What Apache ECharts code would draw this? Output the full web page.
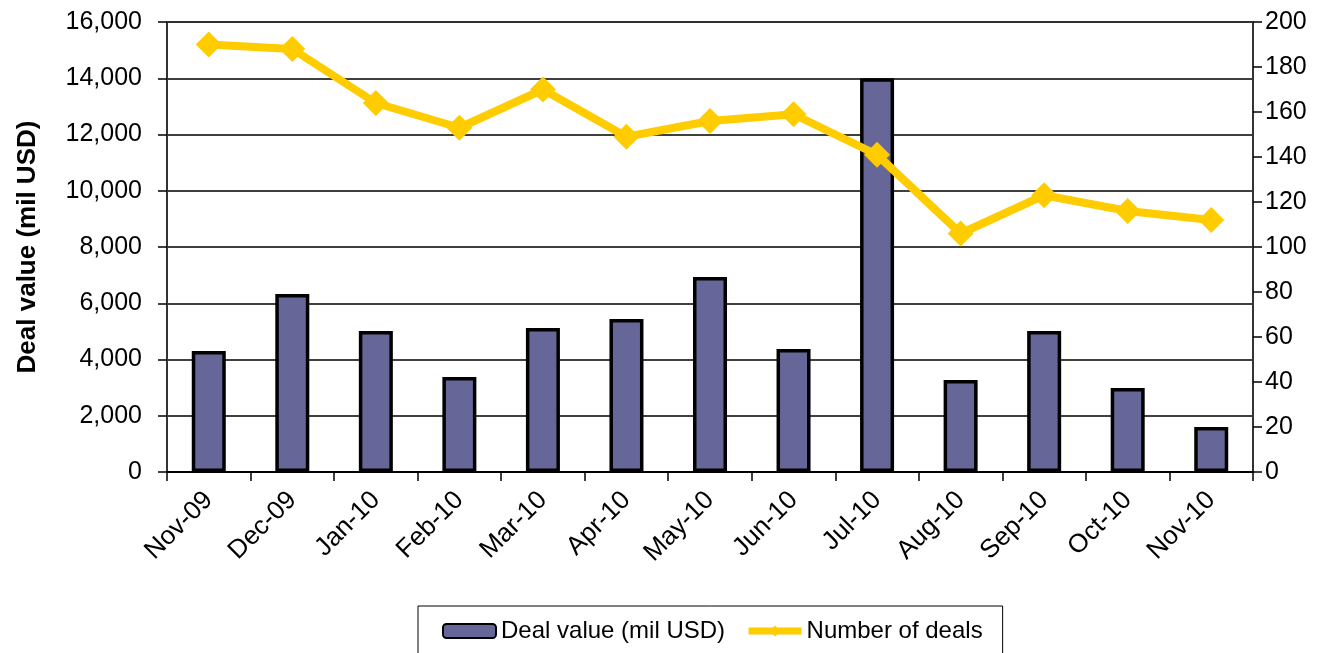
<!DOCTYPE html>
<html>
<head>
<meta charset="utf-8">
<script src="https://cdn.jsdelivr.net/npm/echarts@6/dist/echarts.min.js"></script>
<style>
  html, body { margin: 0; padding: 0; background: #fff; }
  #chart { width: 1325px; height: 653px; }
</style>
</head>
<body>
<div id="chart"></div>
<script>
// months on the x axis
var months = ['Nov-09', 'Dec-09', 'Jan-10', 'Feb-10', 'Mar-10', 'Apr-10', 'May-10',
              'Jun-10', 'Jul-10', 'Aug-10', 'Sep-10', 'Oct-10', 'Nov-10'];
// deal value, mil USD (left axis)
var dealValue = [4300, 6330, 5010, 3380, 5120, 5440, 6930, 4370, 14000, 3270, 5010, 2990, 1600];
// number of deals (right axis)
var dealCount = [190, 188, 164, 153, 170, 149, 156, 159, 141, 106, 123, 116, 112];

var chart = echarts.init(document.getElementById('chart'));
var font = 'Liberation Sans, Arial, sans-serif';

chart.setOption({
    animation: false,
    textStyle: { fontFamily: font, color: '#000' },
    grid: {
        left: 167, right: 72, top: 22, bottom: 181,
        show: true, borderColor: '#808080', borderWidth: 1, backgroundColor: 'transparent'
    },
    legend: {
        left: 418, top: 606,
        borderColor: '#000', borderWidth: 1,
        padding: [13, 20, 30, 24],
        itemGap: 20,
        itemWidth: 53, itemHeight: 14,
        textStyle: { fontSize: 24, color: '#000', fontFamily: font },
        data: [
            { name: 'Deal value (mil USD)' },
            { name: 'Number of deals', lineStyle: { width: 7 } }
        ]
    },
    xAxis: {
        type: 'category',
        data: months,
        boundaryGap: true,
        axisLine: { lineStyle: { color: '#000', width: 2 } },
        axisTick: { show: true, length: 9, lineStyle: { color: '#000', width: 1.5 } },
        axisLabel: { rotate: 45, fontSize: 26, color: '#000', margin: 24, interval: 0 }
    },
    yAxis: [{
        type: 'value',
        min: 0, max: 16000, interval: 2000,
        name: 'Deal value (mil USD)',
        nameLocation: 'middle',
        nameGap: 126,
        nameTextStyle: { fontSize: 26, fontWeight: 'bold', color: '#000' },
        axisLine: { show: true, lineStyle: { color: '#333', width: 2 } },
        axisTick: { show: true, length: 9, lineStyle: { color: '#000', width: 1.5 } },
        axisLabel: {
            fontSize: 25, color: '#000', margin: 25,
            formatter: function (v) { return v.toLocaleString('en-US'); }
        },
        splitLine: { show: true, lineStyle: { color: '#000', width: 1.5 } }
    }, {
        type: 'value',
        min: 0, max: 200, interval: 20,
        position: 'right',
        axisLine: { show: true, lineStyle: { color: '#333', width: 2 } },
        axisTick: { show: true, length: 9, lineStyle: { color: '#000', width: 1.5 } },
        axisLabel: { fontSize: 25, color: '#000', margin: 12 },
        splitLine: { show: false }
    }],
    series: [{
        name: 'Deal value (mil USD)',
        type: 'bar',
        data: dealValue,
        barWidth: 34,
        itemStyle: { color: '#666699', borderColor: '#000', borderWidth: 3.5 },
        z: 2
    }, {
        name: 'Number of deals',
        type: 'line',
        yAxisIndex: 1,
        data: dealCount,
        symbol: 'diamond',
        symbolSize: 26,
        lineStyle: { color: '#FFCC00', width: 8 },
        itemStyle: { color: '#FFCC00' },
        z: 3
    }]
});
</script>
</body>
</html>
